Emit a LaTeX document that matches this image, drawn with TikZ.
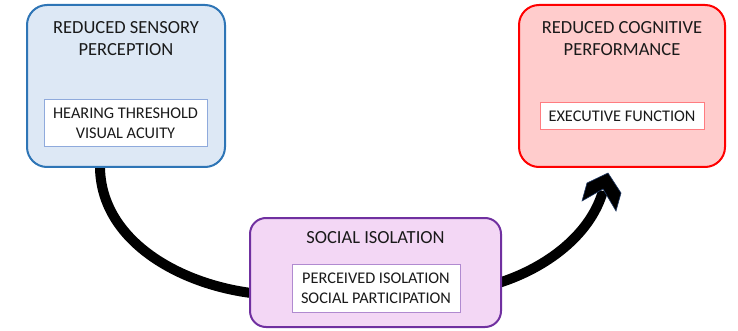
\documentclass[tikz,border=0pt]{standalone}
\usepackage{fontspec}
\setmainfont{Carlito}
\usetikzlibrary{calc,backgrounds}
\definecolor{bluefill}{HTML}{DDE8F5}
\definecolor{blueline}{HTML}{2E75B6}
\definecolor{blueinner}{HTML}{8FAADC}
\definecolor{redfill}{HTML}{FFCCCC}
\definecolor{redline}{HTML}{FF0000}
\definecolor{redinner}{HTML}{FF7C80}
\definecolor{purfill}{HTML}{F3D7F5}
\definecolor{purline}{HTML}{7030A0}
\definecolor{purinner}{HTML}{B08AD0}
\definecolor{txt}{HTML}{1A1A1A}
\definecolor{headline}{HTML}{1F3864}
\tikzset{
  outerbox/.style={draw, line width=2pt, rounded corners=20pt, inner sep=0pt},
  innerbox/.style={draw, line width=1pt, fill=white, inner sep=0pt, align=center, font=\fontsize{16.3}{20}\selectfont, text=txt},
  titletext/.style={align=center, font=\fontsize{18.5}{22}\selectfont, text=txt, inner sep=0pt},
  shaft/.style={line width=10pt, black}
}
\begin{document}
\begin{tikzpicture}[x=1pt,y=-1pt]
\useasboundingbox (0,0) rectangle (738,331);
% outer boxes
\node[outerbox, draw=blueline, fill=bluefill, minimum width=198pt, minimum height=162pt] (sens) at (126,86) {};
\node[outerbox, draw=redline, fill=redfill, minimum width=206pt, minimum height=162pt] (cog) at (622,86) {};
\node[outerbox, rounded corners=16pt, draw=purline, fill=purfill, minimum width=251pt, minimum height=109pt] (soc) at (375.5,272.5) {};
% connectors
\begin{scope}[on background layer]
\draw[shaft] ($(sens.south west)!0.37!(sens.south east)+(0,-2)$) .. controls (100,238) and (175,283) .. ($(soc.west)+(2,20.5)$);
\coordinate (notch) at (603,191);
\draw[shaft] ($(soc.east)+(-2,10)$) .. controls (545,268) and (590,236) .. (notch);
\end{scope}
\filldraw[black, draw=headline, line width=0.6pt, line join=miter] (608,173) -- (621,193) -- (616,211) -- (603,189) -- (582,201) -- (587,183) -- cycle;
% titles
\node[titletext] (sensT) at (126,39) {REDUCED SENSORY\\PERCEPTION};
\node[titletext] (cogT) at (622,39) {REDUCED COGNITIVE\\PERFORMANCE};
\node[titletext] (socT) at (375.5,238) {SOCIAL ISOLATION};
% inner boxes
\node[innerbox, draw=blueinner, minimum width=163pt, minimum height=47pt] (sensI) at (125.5,123.5) {HEARING THRESHOLD\\VISUAL ACUITY};
\node[innerbox, draw=redinner, minimum width=164pt, minimum height=27pt] (cogI) at (622,116.5) {EXECUTIVE FUNCTION};
\node[innerbox, draw=purinner, minimum width=168pt, minimum height=48pt] (socI) at (376,288) {PERCEIVED ISOLATION\\SOCIAL PARTICIPATION};
\end{tikzpicture}
\end{document}
